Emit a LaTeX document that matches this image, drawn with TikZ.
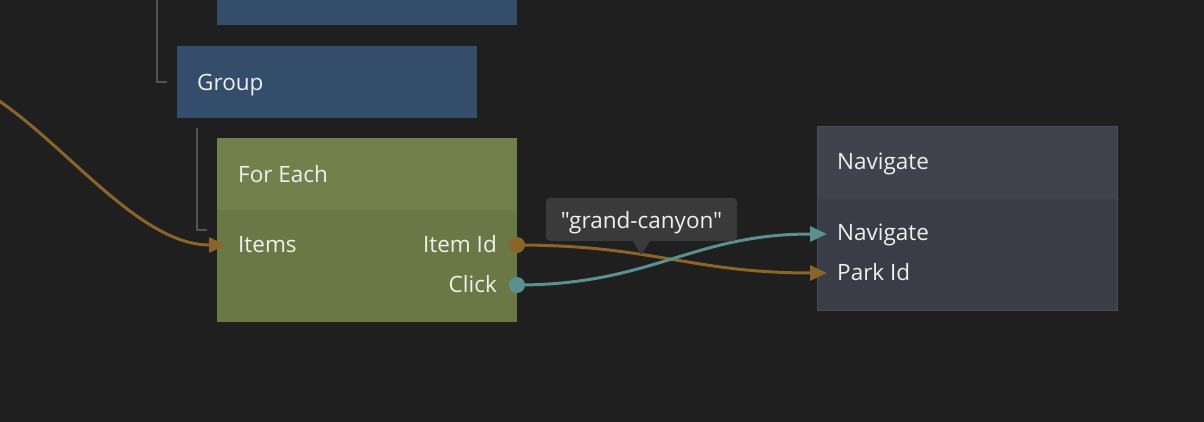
\documentclass[tikz,border=0pt]{standalone}
\usepackage{fontspec}
\setmainfont{Open Sans}
\newfontfamily\tipfont{Open Sans}[Ligatures=TeXOff]
\usetikzlibrary{arrows.meta, positioning}
\definecolor{canvasbg}{HTML}{1F1F1F}
\definecolor{groupblue}{HTML}{334D6B}
\definecolor{fehead}{HTML}{72814B}
\definecolor{febody}{HTML}{6A7846}
\definecolor{navhead}{HTML}{40434E}
\definecolor{navbody}{HTML}{3A3C47}
\definecolor{navedge}{HTML}{4A4D58}
\definecolor{tipfill}{HTML}{3A3A3A}
\definecolor{wirebrown}{HTML}{8A6428}
\definecolor{wireteal}{HTML}{5A9090}
\definecolor{treegray}{HTML}{555555}
\definecolor{labeltext}{HTML}{F0F0F0}
\tikzset{
  panel/.style={inner sep=0pt, anchor=north west},
  title/.style={anchor=base west, inner sep=0pt, text=labeltext,
    font=\fontsize{22.5}{27}\selectfont},
  portlbl/.style={inner sep=0pt, text=labeltext, font=\fontsize{22.5}{27}\selectfont},
  treeline/.style={treegray, line width=1.5pt},
  wire/.style={line width=3pt, #1, -{Triangle[length=17pt, width=15pt]}},
  portdot/.style={fill=#1}
}

\begin{document}
\begin{tikzpicture}[x=1pt, y=-1pt]
  \fill[canvasbg] (0,0) rectangle (1204,422);
  \useasboundingbox (0,0) rectangle (1204,422);

  % node boxes
  \node[panel, fill=groupblue, minimum width=300, minimum height=40] (topbox) at (217,-15) {};
  \node[panel, fill=groupblue, minimum width=300, minimum height=72] (group) at (177,46) {};
  \node[panel, fill=febody, minimum width=300, minimum height=184] (foreach) at (217,138) {};
  \node[panel, fill=fehead, minimum width=300, minimum height=72] (forhead) at (217,138) {};
  \node[panel, fill=navbody, draw=navedge, line width=1pt, minimum width=300, minimum height=184] (navigate) at (817,126) {};
  \node[panel, fill=navhead, minimum width=299, minimum height=72] (navhead) at (817.5,126.5) {};

  % titles
  \node[title] (grouptitle) at (197,90.5) {Group};
  \node[title] (fortitle) at (238,182.5) {For Each};
  \node[title] (navtitle) at (837,170) {Navigate};

  % ports
  \node[portlbl, anchor=base west] (items) at (238,252) {Items};
  \node[portlbl, anchor=base east] (itemid) at (497,252) {Item Id};
  \node[portlbl, anchor=base east] (click) at (497,292) {Click};
  \node[portlbl, anchor=base west] (navin) at (837,240) {Navigate};
  \node[portlbl, anchor=base west] (parkid) at (837,280) {Park Id};
  \coordinate (itemsin) at (226,245);
  \coordinate (itemidout) at (517,245);
  \coordinate (clickout) at (517,285);
  \coordinate (navport) at (827,234);
  \coordinate (parkport) at (827,273);
  \coordinate (source) at (-69,75);
  \coordinate (treetop) at (157,0);

  % hierarchy lines
  \draw[treeline] (treetop) |- ([xshift=-10pt]group.west);
  \draw[treeline] ([xshift=20pt, yshift=-10pt]group.south west) |- ([xshift=-10pt]foreach.west);

  % connections
  \draw[wire=wirebrown] (source) .. controls +(91,0) and +(-108,0) .. (itemsin);
  \draw[wire=wirebrown] (itemidout) .. controls +(135,0) and +(-135,0) .. (parkport);
  \draw[wire=wireteal] (clickout) .. controls +(135,0) and +(-135,0) .. (navport);
  \fill[portdot=wirebrown] (itemidout) circle (8pt);
  \fill[portdot=wireteal] (clickout) circle (8pt);

  % value tooltip
  \node[fill=tipfill, rounded corners=4pt, minimum width=191, minimum height=43, inner sep=0pt] (valuetip) at (641.5,219.5) {};
  \fill[tipfill] ([xshift=-8.5pt]valuetip.south) -- (641,255) -- ([xshift=8.5pt]valuetip.south) -- cycle;
  \node[portlbl, anchor=base] (tiptext) at (641.5,228.5) {\tipfont "grand-canyon"};
\end{tikzpicture}
\end{document}
